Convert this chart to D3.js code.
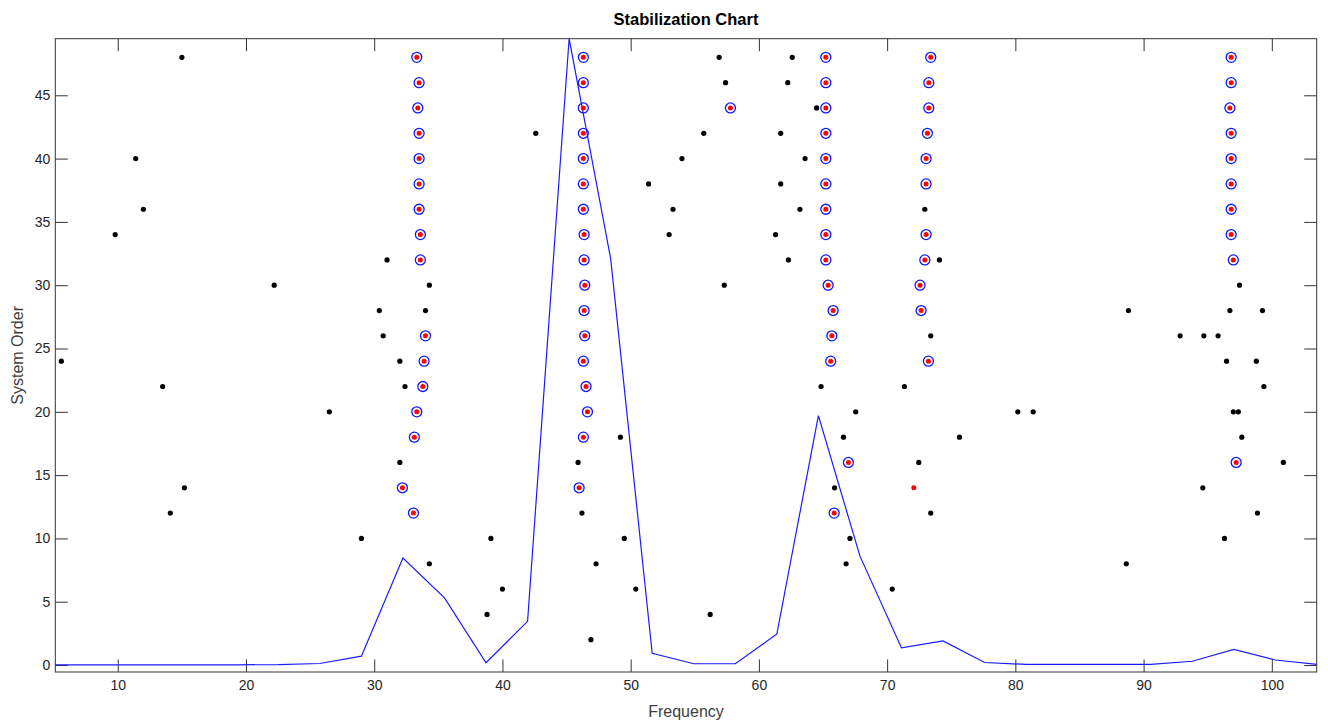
<!DOCTYPE html>
<html>
<head>
<meta charset="utf-8">
<script src="https://cdn.jsdelivr.net/npm/d3@7"></script>
<style>
  html, body { margin: 0; padding: 0; background: #fff; }
  svg { display: block; }
</style>
</head>
<body>
<script>
// spectrum drawn under the poles
const specFreq = [3.08, 6.32, 9.56, 12.8, 16.04, 19.28, 22.52, 25.76, 29.0, 32.24, 35.48, 38.72,
  41.96, 45.2, 48.44, 51.68, 54.92, 58.16, 61.4, 64.64, 67.88, 71.12, 74.36, 77.6, 80.84,
  84.08, 87.32, 90.56, 93.8, 97.04, 100.28, 103.52]
const specAmp = [0.02, 0.02, 0.02, 0.02, 0.02, 0.02, 0.03, 0.12, 0.7, 8.45, 5.3, 0.18,
  3.45, 49.47, 32.1, 0.92, 0.1, 0.1, 2.45, 19.7, 8.6, 1.35, 1.9, 0.2, 0.05,
  0.05, 0.05, 0.05, 0.3, 1.24, 0.4, 0.05]

// [frequency, order]
const unstable = [
  [5.6, 24], [9.8, 34], [11.4, 40], [12.0, 36], [13.5, 22], [14.1, 12], [15.0, 48], [15.2, 14],
  [22.2, 30], [26.5, 20], [29.0, 10], [30.4, 28], [30.7, 26], [31.0, 32], [32.0, 24], [32.4, 22],
  [32.0, 16], [34.3, 30], [34.0, 28], [34.3, 8],
  [38.8, 4], [39.1, 10], [40.0, 6], [42.6, 42], [45.9, 16], [46.2, 12], [46.9, 2], [47.3, 8],
  [49.2, 18], [49.5, 10], [50.4, 6], [51.4, 38], [53.0, 34], [53.3, 36], [54.0, 40], [55.7, 42],
  [56.2, 4], [56.9, 48], [57.4, 46], [57.3, 30],
  [61.7, 42], [61.7, 38], [61.3, 34], [62.3, 32], [62.25, 46], [62.6, 48], [63.6, 40], [63.2, 36],
  [64.5, 44], [64.85, 22], [65.9, 14], [66.6, 18], [66.8, 8], [67.1, 10], [67.55, 20],
  [70.4, 6], [71.35, 22], [72.47, 16], [72.94, 36], [74.08, 32], [73.4, 26], [73.4, 12], [75.64, 18],
  [80.19, 20], [81.39, 20], [88.65, 8], [88.82, 28], [92.85, 26], [94.7, 26], [94.62, 14],
  [95.81, 26], [96.47, 24], [96.31, 10], [96.73, 28], [97.48, 30], [97.0, 20], [97.39, 20],
  [97.66, 18], [98.79, 24], [98.88, 12], [99.38, 22], [99.27, 28], [100.9, 16]
]

const stable = [
  [33.32, 48], [33.5, 46], [33.4, 44], [33.5, 42], [33.5, 40], [33.5, 38], [33.5, 36], [33.6, 34],
  [33.6, 32], [34.0, 26], [33.89, 24], [33.79, 22], [33.32, 20], [33.13, 18], [32.2, 14], [33.06, 12],
  [46.31, 48], [46.31, 46], [46.31, 44], [46.31, 42], [46.31, 40], [46.31, 38], [46.31, 36],
  [46.37, 34], [46.37, 32], [46.42, 30], [46.37, 28], [46.42, 26], [46.31, 24], [46.52, 22],
  [46.63, 20], [46.31, 18], [45.98, 14],
  [57.78, 44],
  [65.22, 48], [65.22, 46], [65.22, 44], [65.22, 42], [65.22, 40], [65.22, 38], [65.22, 36],
  [65.22, 34], [65.22, 32], [65.4, 30], [65.79, 28], [65.69, 26], [65.6, 24], [66.98, 16], [65.87, 12],
  [73.4, 48], [73.25, 46], [73.25, 44], [73.14, 42], [73.04, 40], [73.04, 38], [73.04, 34],
  [72.94, 32], [72.57, 30], [72.65, 28], [73.22, 24],
  [96.83, 48], [96.83, 46], [96.73, 44], [96.83, 42], [96.83, 40], [96.83, 38], [96.83, 36],
  [96.83, 34], [97.0, 32], [97.22, 16]
]

// frequency stable only
const freqOnly = [[72.08, 14]]

const xTicks = [10, 20, 30, 40, 50, 60, 70, 80, 90, 100]
const yTicks = [0, 5, 10, 15, 20, 25, 30, 35, 40, 45]

const width = 1328
const height = 725
const margin = {top: 38.7, right: 11.3, bottom: 53, left: 55.3}
const innerW = width - margin.left - margin.right
const innerH = height - margin.top - margin.bottom
const tickLen = 12.5

const x = d3.scaleLinear().domain([5.13, 103.5]).range([0, innerW])
const y = d3.scaleLinear().domain([-0.55, 49.47]).range([innerH, 0])

const svg = d3.select("body").append("svg")
  .attr("width", width)
  .attr("height", height)
  .attr("font-family", "'Liberation Sans', Arial, sans-serif")

const g = svg.append("g")
  .attr("transform", `translate(${margin.left},${margin.top})`)

g.append("clipPath").attr("id", "plot-clip")
  .append("rect").attr("width", innerW).attr("height", innerH)

// axes (ticks point inward on all four sides)
const axisColor = "#333"
function styleAxis(sel) {
  sel.select(".domain").remove()
  sel.selectAll(".tick line").attr("stroke", axisColor)
  sel.selectAll(".tick text").attr("fill", "#262626").attr("font-size", 14)
}

g.append("g")
  .attr("transform", `translate(0,${innerH})`)
  .call(d3.axisBottom(x).tickValues(xTicks).tickSize(-tickLen).tickPadding(8))
  .call(styleAxis)
g.append("g")
  .call(d3.axisTop(x).tickValues(xTicks).tickSize(-tickLen).tickFormat(""))
  .call(styleAxis)
g.append("g")
  .call(d3.axisLeft(y).tickValues(yTicks).tickSize(-tickLen).tickPadding(5))
  .call(styleAxis)
g.append("g")
  .attr("transform", `translate(${innerW},0)`)
  .call(d3.axisRight(y).tickValues(yTicks).tickSize(-tickLen).tickFormat(""))
  .call(styleAxis)

g.append("rect")
  .attr("width", innerW)
  .attr("height", innerH)
  .attr("fill", "none")
  .attr("stroke", axisColor)
  .attr("stroke-width", 1)

// spectrum line
const line = d3.line()
  .x((d, i) => x(specFreq[i]))
  .y(d => y(d))

g.append("path")
  .datum(specAmp)
  .attr("clip-path", "url(#plot-clip)")
  .attr("fill", "none")
  .attr("stroke", "#1a1aff")
  .attr("stroke-width", 1.2)
  .attr("d", line)

// unstable poles
g.append("g")
  .selectAll("circle")
  .data(unstable)
  .join("circle")
    .attr("cx", d => x(d[0]))
    .attr("cy", d => y(d[1]))
    .attr("r", 2.6)
    .attr("fill", "#000")

// stable poles: blue ring with red centre
const gStable = g.append("g")
gStable.selectAll("circle.ring")
  .data(stable)
  .join("circle")
    .attr("class", "ring")
    .attr("cx", d => x(d[0]))
    .attr("cy", d => y(d[1]))
    .attr("r", 5)
    .attr("fill", "none")
    .attr("stroke", "#1414ff")
    .attr("stroke-width", 1.3)

g.append("g")
  .selectAll("circle")
  .data(stable.concat(freqOnly))
  .join("circle")
    .attr("cx", d => x(d[0]))
    .attr("cy", d => y(d[1]))
    .attr("r", 2.5)
    .attr("fill", "#ff0000")

// labels
svg.append("text")
  .attr("x", margin.left + innerW / 2)
  .attr("y", 25)
  .attr("text-anchor", "middle")
  .attr("font-size", 16.5)
  .attr("font-weight", "bold")
  .attr("fill", "#000")
  .text("Stabilization Chart")

svg.append("text")
  .attr("x", margin.left + innerW / 2)
  .attr("y", 717)
  .attr("text-anchor", "middle")
  .attr("font-size", 16)
  .attr("fill", "#404040")
  .text("Frequency")

svg.append("text")
  .attr("transform", `translate(23,${margin.top + innerH / 2}) rotate(-90)`)
  .attr("text-anchor", "middle")
  .attr("font-size", 16)
  .attr("fill", "#404040")
  .text("System Order")
</script>
</body>
</html>
